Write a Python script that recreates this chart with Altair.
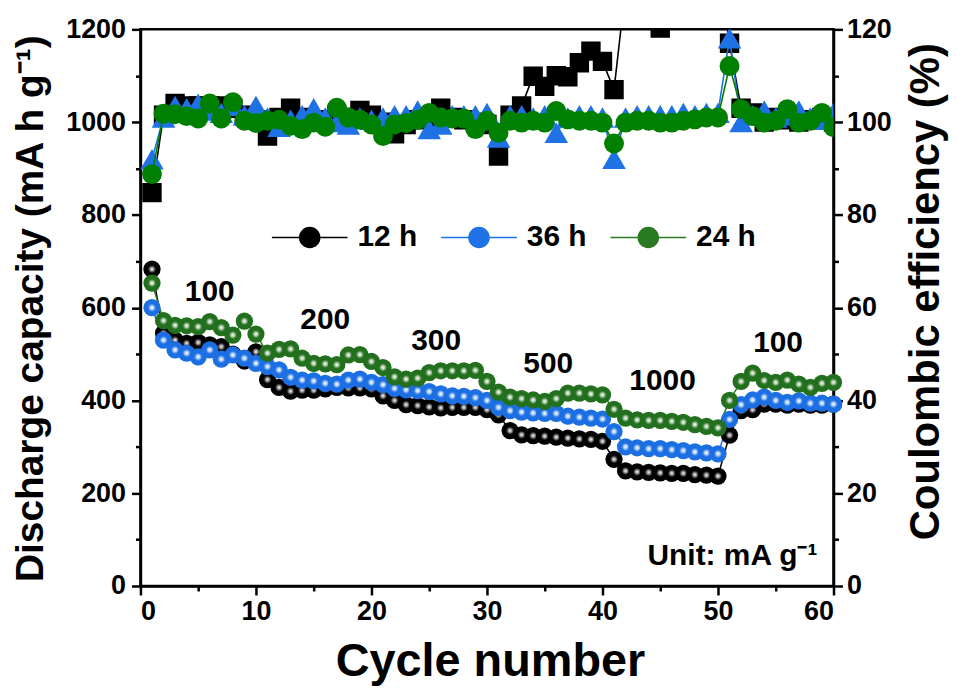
import altair as alt
import pandas as pd

# ---------------- data ----------------
cycles = list(range(1, 61))
series_names = ["12 h", "36 h", "24 h"]

cap_12h = [683, 545, 530, 523, 525, 520, 516, 500, 485, 505,
           445, 428, 420, 422, 422, 425, 428, 427, 427, 425,
           410, 400, 391, 389, 386, 384, 385, 385, 385, 380,
           369, 335, 326, 324, 323, 321, 319, 317, 316, 312,
           273, 248, 246, 245, 244, 243, 243, 240, 239, 237,
           325, 378, 380, 392, 392, 390, 392, 390, 390, 392]
cap_36h = [600, 530, 509, 502, 494, 509, 489, 498, 491, 480,
           473, 466, 450, 444, 442, 437, 435, 444, 446, 439,
           434, 426, 423, 421, 419, 414, 410, 409, 406, 400,
           385, 378, 375, 373, 372, 372, 366, 364, 362, 360,
           333, 300, 298, 296, 296, 294, 292, 289, 287, 285,
           359, 391, 401, 407, 400, 396, 399, 394, 394, 392]
cap_24h = [653, 572, 562, 561, 559, 570, 557, 541, 571, 543,
           502, 510, 511, 491, 480, 479, 477, 498, 499, 484,
           471, 451, 446, 448, 460, 464, 464, 464, 465, 441,
           418, 407, 404, 401, 398, 404, 416, 416, 414, 412,
           381, 362, 358, 357, 357, 355, 353, 348, 344, 341,
           400, 441, 459, 443, 439, 444, 435, 428, 437, 439]

ce_12h = [84.8, 101.5, 104.0, 103.5, 103.5, 103.5, 103.5, 103.0, 101.5, 100.5,
          97.0, 101.0, 103.0, 101.0, 100.5, 100.5, 101.5, 101.0, 102.5, 101.5,
          100.0, 97.5, 99.5, 100.5, 101.0, 103.0, 101.0, 100.5, 100.0, 99.5,
          92.7, 101.5, 103.5, 109.9, 107.7, 110.0, 109.8, 112.8, 115.3, 113.1,
          107.0, 129.0, 135.0, 132.0, 120.3, 132.0, 135.0, 134.0, 133.0, 133.0,
          117.0, 103.0, 102.0, 100.0, 101.0, 100.5, 100.0, 100.5, 101.0, 100.0]
ce_36h = [92.0, 101.0, 103.5, 103.0, 104.0, 102.5, 102.0, 103.5, 101.5, 103.5,
          101.0, 99.0, 100.5, 101.5, 103.0, 101.0, 100.0, 99.5, 101.0, 100.5,
          101.0, 101.5, 101.5, 102.5, 98.5, 99.5, 101.5, 101.5, 101.5, 102.0,
          96.7, 101.5, 101.5, 101.0, 101.5, 97.7, 101.0, 101.5, 101.5, 101.0,
          92.1, 101.0, 101.5, 101.5, 101.5, 101.5, 102.0, 101.5, 102.0, 102.0,
          118.1, 100.0, 101.5, 102.5, 101.0, 101.5, 102.5, 101.0, 100.5, 102.0]
ce_24h = [88.8, 101.8, 101.7, 101.3, 100.8, 104.0, 100.8, 104.3, 100.3, 99.8,
          100.3, 100.5, 99.2, 98.5, 99.9, 99.0, 103.1, 101.0, 100.5, 99.5,
          97.0, 99.5, 99.8, 100.5, 102.0, 101.0, 100.8, 100.8, 98.5, 100.3,
          97.7, 100.3, 99.9, 100.3, 99.9, 102.4, 100.6, 100.3, 100.3, 99.9,
          95.4, 99.9, 100.3, 100.3, 99.9, 99.9, 100.3, 100.6, 101.0, 101.0,
          112.1, 102.8, 101.3, 99.9, 100.3, 102.8, 99.9, 100.3, 102.0, 98.9]

rate_labels = ["100", "200", "300", "500", "1000", "100"]
rate_x = [6.0, 16.0, 25.6, 35.3, 45.2, 55.2]
rate_y = [633, 573, 528, 479, 442, 524]

unit_label = ["Unit: mA g\u207b\u00b9"]
unit_x = [58.6]
unit_y = [64]

# ---------------- styles ----------------
FONT = "Liberation Sans"
line_colors = {"12 h": "#000000", "36 h": "#1f72e6", "24 h": "#2a7a22"}
sphere_colors = {"12 h": ("#000000", "#a0a0a0"),
                 "36 h": ("#1c6fe2", "#bcd6fb"),
                 "24 h": ("#22701e", "#bcd2b6")}
ce_colors = {"12 h": "#000000", "36 h": "#1f72e6", "24 h": "#008000"}
ce_shapes = {"12 h": "square", "36 h": "triangle-up", "24 h": "circle"}
ce_sizes = {"12 h": 380, "36 h": 560, "24 h": 400}

rows = []
for s, caps, ces in zip(series_names, [cap_12h, cap_36h, cap_24h], [ce_12h, ce_36h, ce_24h]):
    for c, v, e in zip(cycles, caps, ces):
        rows.append({"cycle": c, "series": s, "capacity": v, "ce": e})
df = pd.DataFrame(rows)

rates = pd.DataFrame({"cycle": rate_x, "capacity": rate_y, "label": rate_labels})
unit = pd.DataFrame({"cycle": unit_x, "capacity": unit_y, "label": unit_label})

x_axis = alt.Axis(
    values=list(range(0, 61, 5)),
    format="d",
    labelExpr="datum.value % 10 === 0 ? datum.label : ''",
    tickSize={"condition": {"test": "datum.value % 10 === 0", "value": 9}, "value": 5},
    labelPadding=4,
    titleX=351, titleY=76, titleBaseline="middle", titleAlign="center",
    titleFontSize=47,
)
x_enc = alt.X("cycle:Q", scale=alt.Scale(domain=[0, 60], nice=False), axis=x_axis,
              title="Cycle number")

y_cap_axis = alt.Axis(
    values=list(range(0, 1201, 100)),
    format="d",
    labelExpr="datum.value % 200 === 0 ? datum.label : ''",
    tickSize={"condition": {"test": "datum.value % 200 === 0", "value": 9}, "value": 5},
    labelPadding=6,
    titleX=-110, titleY=280, titleAngle=270, titleBaseline="middle", titleAlign="center",
    titleFontSize=39,
)
y_cap = alt.Y("capacity:Q", scale=alt.Scale(domain=[0, 1200], nice=False), axis=y_cap_axis,
              title="Discharge capacity (mA h g\u207b\u00b9)")

y_ce_axis = alt.Axis(
    orient="right",
    values=list(range(0, 121, 10)),
    format="d",
    labelExpr="datum.value % 20 === 0 ? datum.label : ''",
    tickSize={"condition": {"test": "datum.value % 20 === 0", "value": 9}, "value": 5},
    labelPadding=4,
    titleX=92, titleY=263, titleAngle=270, titleBaseline="middle", titleAlign="center",
    titleFontSize=42,
)
y_ce = alt.Y("ce:Q", scale=alt.Scale(domain=[0, 120], nice=False), axis=y_ce_axis,
             title="Coulombic efficiency (%)")

base = alt.Chart(df)

legend_path = ("M-1,0H-0.263M0.263,0H1M0.263,0A0.263,0.263,0,1,1,-0.263,0"
               "A0.263,0.263,0,1,1,0.263,0Z")
legend = alt.Legend(
    orient="none", legendX=131, legendY=170, direction="horizontal", title=None,
    symbolType=legend_path, symbolSize=5776, symbolStrokeWidth=1.6,
    labelFontSize=30, labelFontWeight="bold", labelFont=FONT, labelOffset=9,
    columnPadding=19, labelLimit=200,
)
color_scale = alt.Scale(domain=series_names, range=[line_colors[s] for s in series_names])

# ---------------- capacity layers ----------------
cap_layers = []
for s in series_names:
    cap_layers.append(
        base.transform_filter(alt.datum.series == s)
        .mark_line(color=line_colors[s], strokeWidth=1.5)
        .encode(x=x_enc, y=y_cap, order="cycle:Q")
    )
cap_layers.append(
    base.mark_point(filled=True, size=60, opacity=1, strokeWidth=1.6)
    .encode(x=x_enc, y=y_cap,
            fill=alt.Fill("series:N", scale=color_scale, legend=legend),
            stroke=alt.Stroke("series:N", scale=color_scale, legend=legend))
)
for s in series_names:
    dark, light = sphere_colors[s]
    grad = {
        "gradient": "radial",
        "x1": 0.5, "y1": 0.5, "r1": 0.0,
        "x2": 0.5, "y2": 0.5, "r2": 0.5,
        "stops": [
            {"offset": 0.0, "color": "#ffffff"},
            {"offset": 0.2, "color": light},
            {"offset": 0.45, "color": dark},
            {"offset": 1.0, "color": dark},
        ],
    }
    cap_layers.append(
        base.transform_filter(alt.datum.series == s)
        .mark_point(filled=True, shape="circle", size=300, opacity=1, fill=grad, strokeWidth=0)
        .encode(x=x_enc, y=y_cap)
    )
cap_layers.append(
    alt.Chart(rates).mark_text(font=FONT, fontSize=30, fontWeight="bold", color="black",
                               align="center", baseline="middle")
    .encode(x=x_enc, y=y_cap, text="label:N")
)
cap_layers.append(
    alt.Chart(unit).mark_text(font=FONT, fontSize=30, fontWeight="bold", color="black",
                              align="right", baseline="middle")
    .encode(x=x_enc, y=y_cap, text="label:N")
)
cap_group = alt.layer(*cap_layers)

# ---------------- coulombic efficiency layers ----------------
ce_layers = []
for s in series_names:
    sub = base.transform_filter(alt.datum.series == s)
    ce_layers.append(
        sub.mark_line(color=ce_colors[s], strokeWidth=1.6, clip=True)
        .encode(x=x_enc, y=y_ce, order="cycle:Q")
    )
    ce_layers.append(
        sub.mark_point(shape=ce_shapes[s], filled=True, size=ce_sizes[s], opacity=1,
                       color=ce_colors[s], clip=True)
        .encode(x=x_enc, y=y_ce)
    )
ce_group = alt.layer(*ce_layers)

chart = (
    alt.layer(cap_group, ce_group)
    .resolve_scale(y="independent")
    .properties(width=696, height=559,
                autosize=alt.AutoSizeParams(type="none"),
                padding={"left": 133, "top": 20, "right": 118, "bottom": 106})
    .configure_view(stroke="black", strokeWidth=2.5)
    .configure_axis(
        grid=False, domainColor="black", domainWidth=2.5,
        tickColor="black", tickWidth=2.5,
        labelFont=FONT, labelFontSize=27, labelFontWeight="bold", labelColor="black",
        titleFont=FONT, titleFontWeight="bold", titleColor="black",
    )
    .configure_legend(padding=0)
)

chart.save("out.html", embed_options={"renderer": "svg", "actions": False})
